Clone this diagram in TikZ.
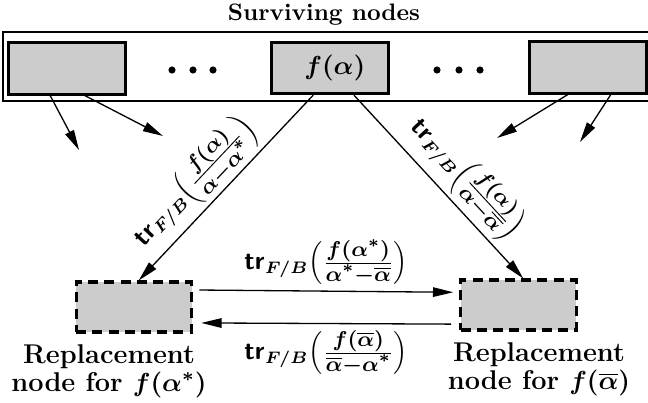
\documentclass[tikz,border=0pt]{standalone}
\usetikzlibrary{arrows.meta,calc}
\definecolor{boxgray}{gray}{0.8}
\newcommand\myfrpart[1]{\hbox{\fontsize{9.3}{10}\selectfont\boldmath$#1$}}
\newcommand\myfr[2]{\frac{\myfrpart{#1}}{\myfrpart{#2}}}
\begin{document}
\begin{tikzpicture}[x=0.42pt,y=-0.42pt,font=\bfseries\boldmath,
  surv/.style={draw,line width=1.3pt,fill=boxgray,minimum width=49pt,minimum height=21.5pt,inner sep=0pt},
  repl/.style={draw,line width=1.3pt,fill=boxgray,dash pattern=on 4.2pt off 2.6pt,minimum width=48.5pt,minimum height=21pt,inner sep=0pt},
  conn/.style={line width=0.55pt,-{Triangle[length=8.5pt,width=4pt]}},
  lab/.style={inner sep=1.5pt,font=\fontsize{10.5}{12}\selectfont\bfseries\boldmath},
  hlab/.style={inner sep=2.5pt,font=\fontsize{10.5}{12}\selectfont\bfseries\boldmath},
  caption/.style={align=center,inner sep=0pt,font=\fontsize{11.4}{11.8}\selectfont\bfseries\boldmath}]
\clip (0,0) rectangle (648,402);
% title and container
\node (title) at (324,15) {Surviving nodes};
\draw[line width=0.6pt] (3,32) rectangle (670,101);
% surviving nodes
\node[surv] (L) at (67,68.5) {};
\node[surv,font=\fontsize{11}{13}\selectfont\bfseries\boldmath] (M) at (330,68) {\hspace{4pt}$f(\alpha)$};
\node[surv] (R) at (588,67.5) {};
\foreach \x in {172,193,213,437,459,480} \fill (\x,70) circle[radius=1.5pt];
% replacement nodes
\node[repl] (A) at (134,307) {};
\node[repl] (B) at (518.5,305) {};
\node[caption] (Alab) at (109,371) {Replacement\\node for $f(\alpha^*)$};
\node[caption] (Blab) at (539,369) {Replacement\\node for $f(\overline{\alpha})$};
% free ends of the small arrows
\coordinate (l1e) at (79,150);
\coordinate (l2e) at (163,136);
\coordinate (r1e) at (497,138);
\coordinate (r2e) at (580,142);
\draw[conn] ($(L.south west)!0.36!(L.south east)$) -- (l1e);
\draw[conn] ($(L.south west)!0.65!(L.south east)$) -- (l2e);
\draw[conn] ($(R.south west)!0.33!(R.south east)$) -- (r1e);
\draw[conn] ($(R.south west)!0.69!(R.south east)$) -- (r2e);
% diagonals
\draw[conn] ($(M.south west)!0.36!(M.south east)$) --
  node[lab,sloped,above,pos=0.57] {$\mathsf{tr}_{F/B}\Bigl(\myfr{f(\alpha)}{\alpha{-}\alpha^*}\Bigr)$}
  ($(A.north west)!0.54!(A.north east)$);
\draw[conn] ($(M.south west)!0.70!(M.south east)$) --
  node[lab,sloped,above,pos=0.55] {$\mathsf{tr}_{F/B}\Bigl(\myfr{f(\alpha)}{\alpha{-}\overline{\alpha}}\Bigr)$}
  ($(B.north west)!0.54!(B.north east)$);
% horizontals
\draw[conn] ($(A.north east)!0.18!(A.south east)+(6,0)$) --
  node[hlab,above] {$\mathsf{tr}_{F/B}\Bigl(\myfr{f(\alpha^*)}{\alpha^*{-}\overline{\alpha}}\Bigr)$}
  ($(B.north west)!0.26!(B.south west)+(-6,0)$);
\draw[conn] ($(B.north west)!0.86!(B.south west)+(-8,0)$) --
  node[hlab,below] {$\mathsf{tr}_{F/B}\Bigl(\myfr{f(\overline{\alpha})}{\overline{\alpha}{-}\alpha^*}\Bigr)$}
  ($(A.north east)!0.80!(A.south east)+(8,0)$);
\end{tikzpicture}
\end{document}
